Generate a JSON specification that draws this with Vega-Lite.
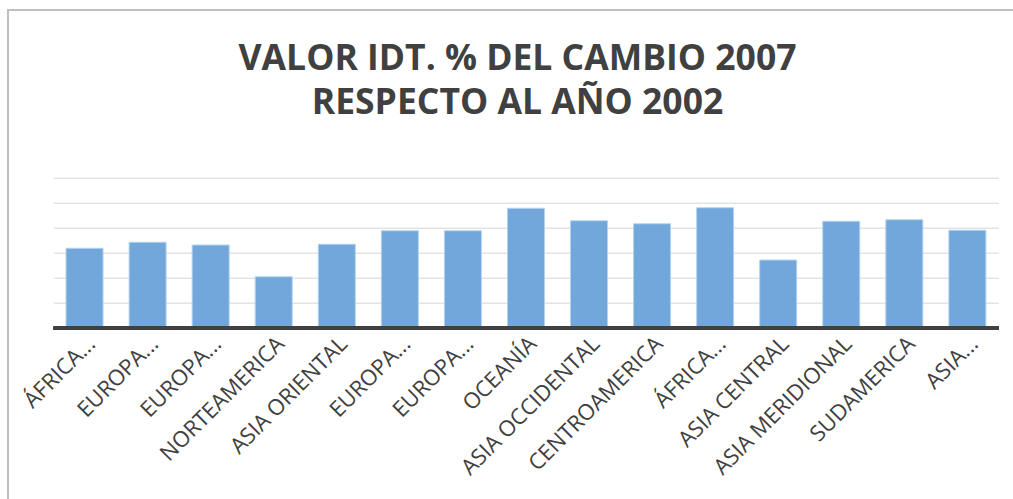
{
  "$schema": "https://vega.github.io/schema/vega-lite/v6.json",
  "width": 1035,
  "height": 500,
  "autosize": {"type": "none"},
  "padding": {"left": 8, "top": 10, "right": -30, "bottom": -11},
  "background": "white",
  "config": {"view": {"stroke": "#bfbfbf", "strokeWidth": 2, "strokeDash": [1006, 1493, 700]}, "font": "Open Sans"},
  "title": {
    "text": ["VALOR IDT. % DEL CAMBIO 2007", "RESPECTO AL AÑO 2002"],
    "font": "Open Sans",
    "fontSize": 35.5,
    "fontWeight": "bold",
    "color": "#404040",
    "lineHeight": 43.5,
    "anchor": "middle",
    "frame": "group",
    "baseline": "top",
    "offset": -111,
    "dx": -8
  },
  "data": {
    "values": [
      {"region": "ÁFRICA...|1", "valor": 3.20},
      {"region": "EUROPA...|2", "valor": 3.44},
      {"region": "EUROPA...|3", "valor": 3.33},
      {"region": "NORTEAMERICA|4", "valor": 2.06},
      {"region": "ASIA ORIENTAL|5", "valor": 3.36},
      {"region": "EUROPA...|6", "valor": 3.90},
      {"region": "EUROPA...|7", "valor": 3.90},
      {"region": "OCEANÍA|8", "valor": 4.80},
      {"region": "ASIA OCCIDENTAL|9", "valor": 4.30},
      {"region": "CENTROAMERICA|10", "valor": 4.18},
      {"region": "ÁFRICA...|11", "valor": 4.82},
      {"region": "ASIA CENTRAL|12", "valor": 2.73},
      {"region": "ASIA MERIDIONAL|13", "valor": 4.28},
      {"region": "SUDAMERICA|14", "valor": 4.34},
      {"region": "ASIA...|15", "valor": 3.92}
    ]
  },
  "layer": [
    {
      "data": {"values": [{"g": 1}, {"g": 2}, {"g": 3}, {"g": 4}, {"g": 5}, {"g": 6}]},
      "mark": {"type": "rule", "color": "#e3e3e3", "strokeWidth": 1.5},
      "encoding": {
        "x": {"datum": "ÁFRICA...|1", "type": "nominal", "bandPosition": -0.33},
        "x2": {"datum": "ASIA...|15", "bandPosition": 1.35},
        "y": {"field": "g", "type": "quantitative", "scale": {"domain": [-7.27, 12.73], "nice": false, "zero": false}, "axis": null}
      }
    },
    {
      "mark": {"type": "bar", "color": "#71a7da", "stroke": "#b4d3ef", "strokeWidth": 1},
      "encoding": {
        "x": {
          "field": "region",
          "type": "nominal",
          "sort": null,
          "scale": {
            "domain": ["ÁFRICA...|1", "EUROPA...|2", "EUROPA...|3", "NORTEAMERICA|4", "ASIA ORIENTAL|5", "EUROPA...|6", "EUROPA...|7", "OCEANÍA|8", "ASIA OCCIDENTAL|9", "CENTROAMERICA|10", "ÁFRICA...|11", "ASIA CENTRAL|12", "ASIA MERIDIONAL|13", "SUDAMERICA|14", "ASIA...|15"],
            "paddingInner": 0.413,
            "paddingOuter": 0.913,
            "align": 0.504
          },
          "axis": {
            "title": null,
            "domain": false,
            "ticks": false,
            "labelAngle": -45,
            "labelFont": "Open Sans",
            "labelFontSize": 22,
            "labelColor": "#404040",
            "labelPadding": 12,
            "labelOffset": 7,
            "labelLimit": 400,
            "labelOverlap": false,
            "labelBound": false,
            "offset": -182,
            "labelExpr": "split(datum.value, '|')[0]"
          }
        },
        "y": {"field": "valor", "type": "quantitative", "scale": {"domain": [-7.27, 12.73], "nice": false, "zero": false}, "axis": null},
        "y2": {"datum": 0}
      }
    },
    {
      "mark": {"type": "rule", "color": "#404040", "strokeWidth": 3.5},
      "encoding": {
        "x": {"datum": "ÁFRICA...|1", "type": "nominal", "bandPosition": -0.33},
        "x2": {"datum": "ASIA...|15", "bandPosition": 1.35},
        "y": {"datum": 0, "type": "quantitative"}
      }
    }
  ]
}
